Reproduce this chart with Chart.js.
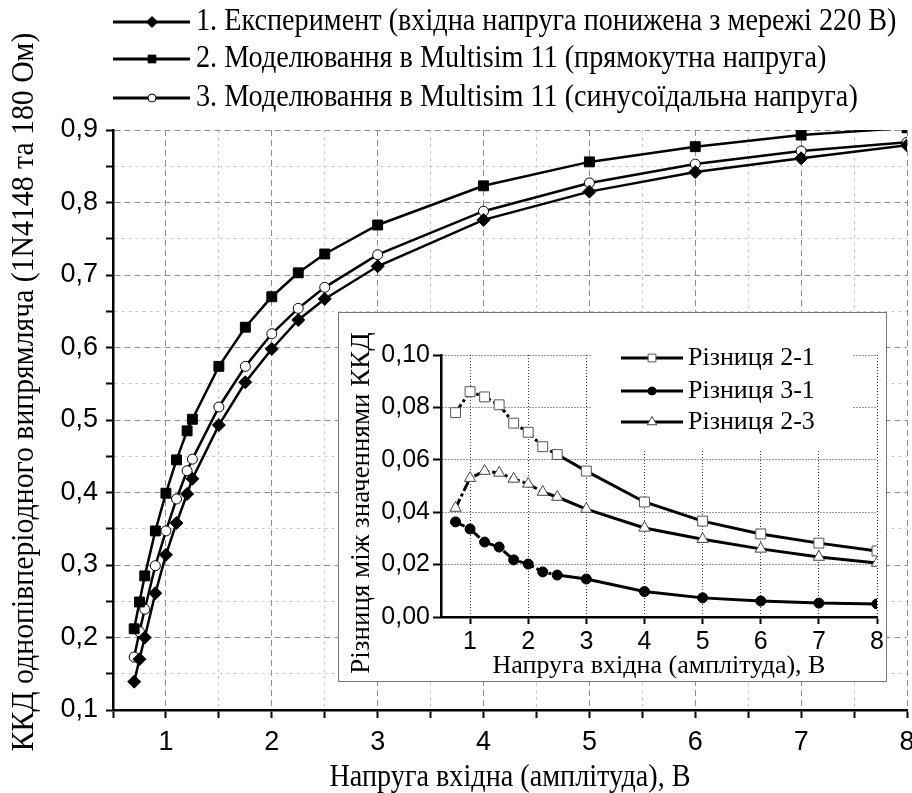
<!DOCTYPE html>
<html>
<head>
<meta charset="utf-8">
<script src="https://cdn.jsdelivr.net/npm/chart.js@4.4.0/dist/chart.umd.min.js"></script>
<style>
  body { margin: 0; background: #fff; }
  #wrap { position: relative; width: 912px; height: 793px; }
  #main { position: absolute; left: 0; top: 0; }
  #insetBox { position: absolute; left: 338px; top: 312px; width: 547px; height: 368px;
              border: 1px solid #777; background: #fff; }
  #inset { display: block; }
</style>
</head>
<body>
<div id="wrap">
  <canvas id="main" width="912" height="793"></canvas>
  <div id="insetBox"><canvas id="inset" width="547" height="368"></canvas></div>
</div>
<script>
// main chart data
const voltage = [0.7, 0.75, 0.8, 0.9, 1, 1.1, 1.2, 1.25, 1.5, 1.75, 2, 2.25, 2.5, 3, 4, 5, 6, 7, 8];
const experiment = [0.139, 0.170, 0.200, 0.261, 0.314, 0.358, 0.398, 0.419, 0.493, 0.552, 0.598, 0.638, 0.667, 0.712, 0.776, 0.815, 0.842, 0.861, 0.879];
const squareSim = [0.212, 0.249, 0.285, 0.347, 0.399, 0.445, 0.485, 0.501, 0.574, 0.628, 0.670, 0.703, 0.729, 0.769, 0.823, 0.856, 0.877, 0.893, 0.903];
const sineSim = [0.173, 0.208, 0.239, 0.299, 0.347, 0.391, 0.430, 0.446, 0.518, 0.574, 0.619, 0.654, 0.683, 0.728, 0.788, 0.827, 0.853, 0.871, 0.883];
const mainLabels = [
  '1. Експеримент (вхідна напруга понижена з мережі 220 В)',
  '2. Моделювання в Multisim 11 (прямокутна напруга)',
  '3. Моделювання в Multisim 11 (синусоїдальна напруга)'
];

// inset data
const diffVoltage = [0.75, 1, 1.25, 1.5, 1.75, 2, 2.25, 2.5, 3, 4, 5, 6, 7, 8];
const diff21 = [0.078, 0.086, 0.084, 0.081, 0.074, 0.0705, 0.065, 0.062, 0.0557, 0.0439, 0.0366, 0.0317, 0.0282, 0.0252];
const diff31 = [0.0363, 0.0336, 0.0286, 0.0267, 0.0218, 0.0202, 0.0172, 0.016, 0.0145, 0.0097, 0.0073, 0.0061, 0.0053, 0.005];
const diff23 = [0.0416, 0.053, 0.0557, 0.055, 0.0527, 0.0508, 0.0477, 0.0458, 0.0412, 0.034, 0.0297, 0.026, 0.0229, 0.0206];
const diffLabels = ['Різниця 2-1', 'Різниця 3-1', 'Різниця 2-3'];

const xTitle = 'Напруга вхідна (амплітуда), В';
const yTitleMain = 'ККД однопівперіодного випрямляча (1N4148 та 180 Ом)';
const yTitleInset = 'Різниця між значеннями ККД';

const SERIF = '"Liberation Serif", "Times New Roman", serif';
const NARROW = '"Liberation Sans Narrow", "Arial Narrow", "Liberation Sans", sans-serif';
const SANS = '"Liberation Sans", Arial, sans-serif';

const toPoints = (xs, ys) => xs.map((x, i) => ({ x: x, y: ys[i] }));
const comma = (v, d) => v.toFixed(d).replace('.', ',');
const near = (a, b) => Math.abs(a - b) < 1e-6;
const isTenth = v => near(Math.round(v * 10) / 10, v);

function squeezedText(ctx, text, x, y, size, squeeze, align, angle) {
  ctx.save();
  ctx.translate(x, y);
  if (angle) ctx.rotate(angle);
  ctx.scale(squeeze, 1);
  ctx.font = size + 'px ' + SERIF;
  ctx.fillStyle = '#000';
  ctx.textAlign = align;
  ctx.textBaseline = 'middle';
  ctx.fillText(text, 0, 0);
  ctx.restore();
}

function marker(ctx, style, x, y, r, fill, stroke) {
  ctx.save();
  ctx.fillStyle = fill;
  ctx.strokeStyle = stroke;
  ctx.lineWidth = 1;
  Chart.helpers.drawPoint(ctx, { pointStyle: style, radius: r, borderWidth: 1 }, x, y);
  ctx.restore();
}

// ---------- main chart ----------
const mainStyles = [
  { style: 'rectRot', r: 6.5, fill: '#000', lr: 5.5 },
  { style: 'rect', r: 7, fill: '#000', lr: 5.5 },
  { style: 'circle', r: 5, fill: '#fff', lr: 4 }
];

const mainDecor = {
  id: 'mainDecor',
  afterDraw(chart) {
    const ctx = chart.ctx;
    const area = chart.chartArea;
    const rows = [22, 59, 98];
    mainLabels.forEach((label, i) => {
      const y = rows[i];
      ctx.save();
      ctx.strokeStyle = '#000';
      ctx.lineWidth = 3;
      ctx.beginPath();
      ctx.moveTo(113, y);
      ctx.lineTo(190, y);
      ctx.stroke();
      ctx.restore();
      const s = mainStyles[i];
      marker(ctx, s.style, 152, y, s.lr, s.fill, '#000');
      squeezedText(ctx, label, 196, y, 31, 0.91, 'left');
    });
    squeezedText(ctx, xTitle, (area.left + area.right) / 2, 778, 31, 0.91, 'center');
    squeezedText(ctx, yTitleMain, 25, 392, 32, 0.93, 'center', -Math.PI / 2);
  }
};

function lineSet(label, ys, s) {
  return {
    label: label,
    data: toPoints(voltage, ys),
    borderColor: '#000',
    borderWidth: 2.5,
    pointStyle: s.style,
    pointRadius: s.r,
    pointHoverRadius: s.r,
    pointBackgroundColor: s.fill,
    pointBorderColor: '#000',
    pointBorderWidth: 1,
    tension: 0
  };
}

new Chart(document.getElementById('main'), {
  type: 'line',
  data: {
    datasets: [
      lineSet(mainLabels[0], experiment, mainStyles[0]),
      lineSet(mainLabels[1], squareSim, mainStyles[1]),
      lineSet(mainLabels[2], sineSim, mainStyles[2])
    ]
  },
  options: {
    responsive: false,
    animation: false,
    layout: { autoPadding: false, padding: { top: 130, right: 5, left: 0, bottom: 0 } },
    plugins: { legend: { display: false }, tooltip: { enabled: false } },
    scales: {
      x: {
        type: 'linear', min: 0.5, max: 8,
        afterFit: s => { s.height = 83; s.paddingLeft = 0; s.paddingRight = 0; },
        ticks: {
          stepSize: 0.5, autoSkip: false, maxRotation: 0, padding: 8,
          color: '#000', font: { family: NARROW, size: 27 },
          callback: v => Number.isInteger(v) ? String(v) : ''
        },
        grid: {
          color: c => (c.tick && !Number.isInteger(c.tick.value)) ? '#c8c8c8' : '#8c8c8c',
          lineWidth: 1, tickColor: '#000', tickWidth: 2, tickLength: 8
        },
        border: {
          color: '#000', width: 2.5,
          dash: c => (c.tick && !Number.isInteger(c.tick.value)) ? [3, 4] : [6, 4]
        }
      },
      y: {
        type: 'linear', min: 0.1, max: 0.9,
        afterFit: s => { s.width = 113; s.paddingTop = 0; s.paddingBottom = 0; },
        ticks: {
          stepSize: 0.05, autoSkip: false, padding: 8,
          color: '#000', font: { family: NARROW, size: 27 },
          callback: v => isTenth(v) ? comma(v, 1) : ''
        },
        grid: {
          color: c => (c.tick && !isTenth(c.tick.value)) ? '#c8c8c8' : '#8c8c8c',
          lineWidth: 1, tickColor: '#000', tickWidth: 2, tickLength: 7
        },
        border: {
          color: '#000', width: 2.5,
          dash: c => (c.tick && !isTenth(c.tick.value)) ? [3, 4] : [6, 4]
        }
      }
    }
  },
  plugins: [mainDecor]
});

// ---------- inset chart ----------
const insetStyles = [
  { style: 'rect', r: 7, fill: '#fff', stroke: '#555', lr: 5.5 },
  { style: 'circle', r: 5, fill: '#000', stroke: '#000', lr: 4 },
  { style: 'triangle', r: 6.5, fill: '#fff', stroke: '#444', lr: 5.5 }
];

const insetDecor = {
  id: 'insetDecor',
  afterDraw(chart) {
    const ctx = chart.ctx;
    const area = chart.chartArea;
    ctx.save();
    ctx.fillStyle = '#fff';
    ctx.fillRect(252, 28, 262, 108);
    ctx.restore();
    const rows = [45, 78, 109];
    diffLabels.forEach((label, i) => {
      const y = rows[i];
      ctx.save();
      ctx.strokeStyle = '#000';
      ctx.lineWidth = 3;
      ctx.beginPath();
      ctx.moveTo(282, y);
      ctx.lineTo(344, y);
      ctx.stroke();
      ctx.restore();
      const s = insetStyles[i];
      marker(ctx, s.style, 313, y, s.lr, s.fill, s.stroke);
      squeezedText(ctx, label, 349, y, 26, 1, 'left');
    });
    squeezedText(ctx, xTitle, (area.left + area.right) / 2, 353, 26, 1, 'center');
    squeezedText(ctx, yTitleInset, 23, 190, 27, 1, 'center', -Math.PI / 2);
  }
};

function diffSet(label, ys, s) {
  return {
    label: label,
    data: toPoints(diffVoltage, ys),
    borderColor: '#000',
    borderWidth: 3,
    segment: { borderDash: c => (c.p1.parsed.x - c.p0.parsed.x) < 0.5 ? [10, 3, 3, 3] : undefined },
    pointStyle: s.style,
    pointRadius: s.r,
    pointHoverRadius: s.r,
    pointBackgroundColor: s.fill,
    pointBorderColor: s.stroke,
    pointBorderWidth: 1,
    tension: 0
  };
}

new Chart(document.getElementById('inset'), {
  type: 'line',
  data: {
    datasets: [
      diffSet(diffLabels[0], diff21, insetStyles[0]),
      diffSet(diffLabels[1], diff31, insetStyles[1]),
      diffSet(diffLabels[2], diff23, insetStyles[2])
    ]
  },
  options: {
    responsive: false,
    animation: false,
    layout: { autoPadding: false, padding: { top: 42, right: 9, left: 0, bottom: 0 } },
    plugins: { legend: { display: false }, tooltip: { enabled: false } },
    scales: {
      x: {
        type: 'linear', min: 0.5, max: 8,
        afterFit: s => { s.height = 64; s.paddingLeft = 0; s.paddingRight = 0; },
        ticks: {
          stepSize: 0.5, autoSkip: false, maxRotation: 0, padding: 3,
          color: '#000', font: { family: SANS, size: 25 },
          callback: v => Number.isInteger(v) ? String(v) : ''
        },
        grid: {
          color: c => (c.tick && Number.isInteger(c.tick.value)) ? '#333' : 'rgba(0,0,0,0)',
          tickColor: c => (c.tick && Number.isInteger(c.tick.value)) ? '#000' : 'rgba(0,0,0,0)',
          lineWidth: 1, tickWidth: 2, tickLength: 7
        },
        border: { color: '#000', width: 2.5, dash: [1, 2] }
      },
      y: {
        type: 'linear', min: 0, max: 0.1,
        afterFit: s => { s.width = 102; s.paddingTop = 0; s.paddingBottom = 0; },
        ticks: {
          stepSize: 0.02, autoSkip: false, padding: 3,
          color: '#000', font: { family: SANS, size: 25 },
          callback: v => comma(v, 2)
        },
        grid: { color: '#333', lineWidth: 1, tickColor: '#000', tickWidth: 2, tickLength: 8 },
        border: { color: '#000', width: 2.5, dash: [1, 2] }
      }
    }
  },
  plugins: [insetDecor]
});
</script>
</body>
</html>
